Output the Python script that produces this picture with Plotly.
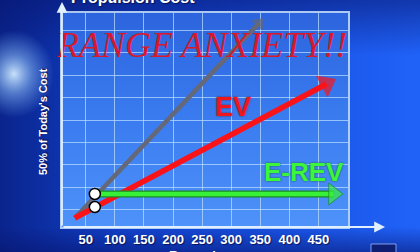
import numpy as np
import plotly.graph_objects as go

W, H = 420, 252

# ---------------- data ----------------
x_ticks = [50, 100, 150, 200, 250, 300, 350, 400, 450]
x_tick_text = ["50", "100", "150", "200", "250", "300", "350", "400", "450"]
y_grid = [1, 2, 3, 4, 5, 6, 7, 8, 9]

ice_x = [31, 348]        # gray arrow (today's cost)
ice_y = [0.64, 9.31]
ev_x = [31, 464]         # EV red arrow
ev_y = [0.64, 6.6]
erev_x = [65.5, 476]     # E-REV green arrow
erev_y = [1.71, 1.71]
dot_x = [65.5, 65.5]     # white break-even dots
dot_y = [1.71, 1.13]

# ---------------- layout geometry (pixels) ----------------
PL, PR, PT, PB = 62, 348, 13, 227


def rect(x0, x1, y0, y1):
    return [x0, x1, x1, x0, x0], [y0, y0, y1, y1, y0]


fig = go.Figure()

# background (on hidden full-page axes x/y, pixel units)
bx, by = rect(0, W, 0, H)
fig.add_trace(go.Scatter(
    x=bx, y=by, mode="lines", fill="toself", line=dict(width=0),
    fillgradient=dict(type="horizontal", colorscale=[
        [0, "rgb(10,36,140)"], [0.3, "rgb(18,66,205)"], [1, "rgb(32,98,248)"]]),
    hoverinfo="skip", showlegend=False, xaxis="x", yaxis="y"))
fig.add_trace(go.Scatter(
    x=bx, y=by, mode="lines", fill="toself", line=dict(width=0),
    fillgradient=dict(type="vertical", colorscale=[
        [0, "rgba(6,20,110,0.55)"], [0.1, "rgba(6,20,110,0)"],
        [0.78, "rgba(6,20,110,0)"], [1, "rgba(6,20,110,0.55)"]]),
    hoverinfo="skip", showlegend=False, xaxis="x", yaxis="y"))
t = np.linspace(0, 2 * np.pi, 80)
fig.add_trace(go.Scatter(
    x=14 + 40 * np.cos(t), y=74 + 44 * np.sin(t), mode="lines", fill="toself",
    line=dict(width=0),
    fillgradient=dict(type="radial", colorscale=[
        [0, "rgba(210,235,255,0.95)"], [0.45, "rgba(150,200,255,0.5)"],
        [1, "rgba(120,180,255,0)"]]),
    hoverinfo="skip", showlegend=False, xaxis="x", yaxis="y"))
# plot-area panel
px_, py_ = rect(PL, PR, PT, PB)
fig.add_trace(go.Scatter(
    x=px_, y=py_, mode="lines", fill="toself", line=dict(width=0),
    fillgradient=dict(type="vertical", colorscale=[
        [0, "rgb(78,146,250)"], [0.5, "rgb(58,124,240)"], [1, "rgb(44,100,222)"]]),
    hoverinfo="skip", showlegend=False, xaxis="x", yaxis="y"))
# small box bottom-right
sx, sy = rect(371, 396, 244, 256)
fig.add_trace(go.Scatter(
    x=sx, y=sy, mode="lines", fill="toself", fillcolor="rgb(14,30,115)",
    line=dict(width=1, color="rgba(150,185,255,0.8)"),
    hoverinfo="skip", showlegend=False, xaxis="x", yaxis="y"))

# ---------------- main traces ----------------
GRAY = "rgb(100,104,120)"
RED = "rgb(250,20,25)"
GREEN = "rgb(55,240,55)"
DKGREEN = "rgb(25,140,35)"

fig.add_trace(go.Scatter(
    x=ice_x, y=ice_y, mode="lines+markers",
    line=dict(color=GRAY, width=4.5),
    marker=dict(symbol="triangle-up", size=[0, 12], angleref="previous",
                color=GRAY, line=dict(color=GRAY, width=1)),
    hoverinfo="skip", showlegend=False, xaxis="x2", yaxis="y2"))
fig.add_trace(go.Scatter(
    x=ev_x, y=ev_y, mode="lines+markers",
    line=dict(color=RED, width=5.5),
    marker=dict(symbol="triangle-up", size=[0, 20], angleref="previous",
                color=RED, line=dict(color=RED, width=1)),
    hoverinfo="skip", showlegend=False, xaxis="x2", yaxis="y2"))
fig.add_trace(go.Scatter(
    x=erev_x, y=erev_y, mode="lines",
    line=dict(color=DKGREEN, width=7),
    hoverinfo="skip", showlegend=False, xaxis="x2", yaxis="y2"))
fig.add_trace(go.Scatter(
    x=erev_x, y=erev_y, mode="lines+markers",
    line=dict(color=GREEN, width=4.5),
    marker=dict(symbol="triangle-up", size=[0, 19], angleref="previous",
                color=GREEN, line=dict(color=DKGREEN, width=1)),
    hoverinfo="skip", showlegend=False, xaxis="x2", yaxis="y2"))
fig.add_trace(go.Scatter(
    x=dot_x, y=dot_y, mode="markers",
    marker=dict(symbol="circle", size=11, color="white",
                line=dict(color="black", width=1.5)),
    hoverinfo="skip", showlegend=False, xaxis="x2", yaxis="y2"))


def ann(text, px, py, size, color, family="Liberation Sans", weight="bold",
        style="normal", angle=0, shadow="none"):
    return dict(text=text, xref="paper", yref="paper", x=px / W, y=1 - py / H,
                xanchor="center", yanchor="middle", showarrow=False,
                textangle=angle,
                font=dict(family=family, size=size, color=color, weight=weight,
                          style=style, shadow=shadow))


annotations = [
    ann("Propulsion Cost", 133, -3, 16, "white", shadow="1px 1px 1px rgba(0,0,40,0.6)"),
    ann("50% of Today's Cost", 43, 122, 11, "white", angle=-90,
        shadow="1px 1px 1px rgba(0,0,40,0.6)"),
    ann("Range km", 200, 255, 13, "white", shadow="1px 1px 1px rgba(0,0,40,0.6)"),
    ann("RANGE ANXIETY!!", 201, 45, 36, "rgb(215,25,45)",
        family="Liberation Serif", weight="normal", style="italic"),
    ann("EV", 233, 107, 27, "rgb(240,22,30)",
        shadow="0px 0px 2px rgba(120,0,0,0.8)"),
    ann("E-REV", 304, 172, 26, "rgb(60,245,60)",
        shadow="0px 0px 2px rgb(10,90,20)"),
    # axis arrows
    dict(text="", xref="paper", yref="paper", x=385 / W, y=1 - PB / H,
         ax=-(385 - PL), ay=0, showarrow=True, arrowhead=2, arrowsize=1.2,
         arrowwidth=1.8, arrowcolor="rgb(225,240,255)"),
    dict(text="", xref="paper", yref="paper", x=PL / W, y=1 - 2 / H,
         ax=0, ay=PB - 2, showarrow=True, arrowhead=2, arrowsize=1.2,
         arrowwidth=1.8, arrowcolor="rgb(225,240,255)"),
]

grid_col = "rgba(190,225,255,0.7)"
fig.update_layout(
    width=W, height=H, margin=dict(l=0, r=0, t=0, b=0),
    paper_bgcolor="rgb(15,50,170)", plot_bgcolor="rgba(0,0,0,0)",
    showlegend=False,
    xaxis=dict(domain=[0, 1], range=[0, W], visible=False, fixedrange=True),
    yaxis=dict(domain=[0, 1], range=[H, 0], visible=False, fixedrange=True),
    xaxis2=dict(domain=[PL / W, PR / W], range=[9, 501], anchor="y2",
                tickvals=x_ticks, ticktext=x_tick_text, ticks="",
                showgrid=True, gridcolor=grid_col, gridwidth=1, zeroline=False,
                showline=True, mirror=True, linecolor="rgba(200,228,255,0.85)",
                linewidth=1.5,
                tickfont=dict(family="Liberation Sans", size=13, color="white",
                              weight="bold", shadow="1px 1px 1px rgba(0,0,40,0.6)")),
    yaxis2=dict(domain=[1 - PB / H, 1 - PT / H], range=[0.24, 9.76], anchor="x2",
                tickvals=y_grid, showticklabels=False, ticks="",
                showgrid=True, gridcolor=grid_col, gridwidth=1, zeroline=False,
                showline=True, mirror=True, linecolor="rgba(200,228,255,0.85)",
                linewidth=1.5),
    annotations=annotations,
)

fig.write_html("out.html")
